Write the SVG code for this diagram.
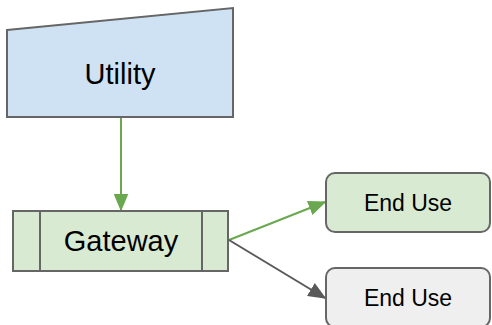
<svg xmlns="http://www.w3.org/2000/svg" width="492" height="325" viewBox="0 0 492 325">
<style>
.shape{stroke:#666;stroke-width:2}
.lbl{font-family:"Liberation Sans",Arial,sans-serif;fill:#000;text-anchor:middle;dominant-baseline:central}
</style>
<defs>
<marker id="ag" viewBox="0 0 12 10" refX="11" refY="5" markerWidth="9" markerHeight="7.5" orient="auto" markerUnits="strokeWidth"><path d="M0,0 L12,5 L0,10 z" fill="#6aa84f"/></marker>
<marker id="ak" viewBox="0 0 12 10" refX="11" refY="5" markerWidth="9" markerHeight="7.5" orient="auto" markerUnits="strokeWidth"><path d="M0,0 L12,5 L0,10 z" fill="#595959"/></marker>
</defs>
<g id="connectors">
<line x1="121" y1="118" x2="121" y2="210" stroke="#6aa84f" stroke-width="2" marker-end="url(#ag)"/>
<line x1="229" y1="240" x2="325" y2="202" stroke="#6aa84f" stroke-width="2" marker-end="url(#ag)"/>
<line x1="229" y1="240" x2="325" y2="298" stroke="#595959" stroke-width="2" marker-end="url(#ak)"/>
</g>
<g id="utility">
<polygon class="shape" points="7,30 233,8 233,117 7,117" fill="#cfe2f3"/>
<text class="lbl" x="120" y="74" font-size="29">Utility</text>
</g>
<g id="gateway">
<rect class="shape" x="13" y="211" width="215" height="60" fill="#d9ead3"/>
<line class="shape" x1="40" y1="211" x2="40" y2="271"/>
<line class="shape" x1="202" y1="211" x2="202" y2="271"/>
<text class="lbl" x="121" y="241" font-size="29">Gateway</text>
</g>
<g id="enduse1">
<rect class="shape" x="326" y="173" width="164" height="59" rx="9" fill="#d9ead3"/>
<text class="lbl" x="408" y="203" font-size="23">End Use</text>
</g>
<g id="enduse2">
<rect class="shape" x="326" y="268" width="164" height="59" rx="9" fill="#efefef"/>
<text class="lbl" x="408" y="298" font-size="23">End Use</text>
</g>
</svg>
